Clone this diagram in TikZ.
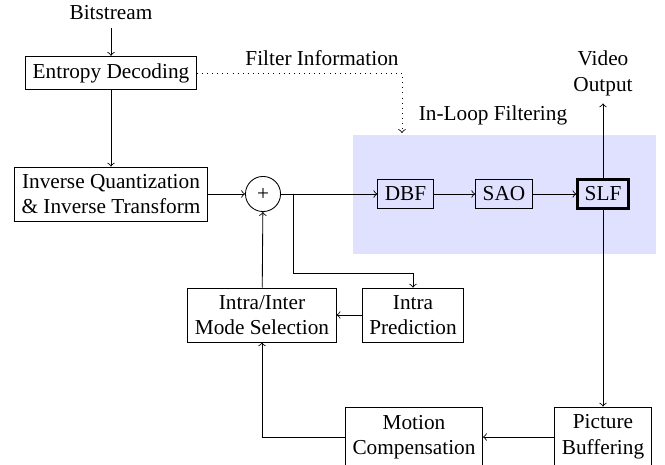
\documentclass[tikz,border=0pt]{standalone}
\usepackage{fontspec}
\setmainfont{Liberation Serif}
\begin{document}
\begin{tikzpicture}[x=0.47pt, y=-0.47pt,
        block/.style={draw, align=center},
        adder/.style={draw, circle, minimum size=16.5pt, inner sep=0pt},
        loopbg/.style={fill=blue!12, minimum width=142.4pt, minimum height=55.9pt}]
    \useasboundingbox (0, 0) rectangle (665, 465);

    \node[loopbg] (loop) at (504.5, 194.5) {};
    \node (looplabel) at (493, 115) {In-Loop Filtering};

    \node (bits) at (111, 13) {Bitstream};
    \node[block] (ent) at (111, 73) {Entropy Decoding};
    \node (filtinfo) at (322, 58) {Filter Information};
    \node[align=center] (video) at (603, 73.5) {Video\\Output};

    \node[block] (invq) at (111, 194) {Inverse Quantization\\\& Inverse Transform};
    \node[adder] (plus) at (263, 194) {+};
    \node[block] (dbf) at (405.5, 194) {DBF};
    \node[block] (sao) at (504, 194) {SAO};
    \node[block, very thick] (slf) at (603, 194) {SLF};

    \node[block] (mode) at (262, 315) {Intra/Inter\\Mode Selection};
    \node[block] (intrap) at (413, 315) {Intra\\Prediction};

    \node[block, minimum height=28.2pt] (mc) at (414, 437) {Motion\\Compensation};
    \node[block, minimum height=28.2pt] (pic) at (603, 437) {Picture\\Buffering};

    \coordinate (filtend) at (402, 133);
    \coordinate (br) at (293, 194);
    \coordinate (bend) at (293, 273);

    \draw [->] (bits) -- (ent);
    \draw [->] (ent) -- (invq);
    \draw [->, dotted] (ent.east) -| (filtend);
    \draw [->] (invq) -- (plus);
    \draw [->] (plus) -- (dbf);
    \draw [->] (dbf) -- (sao);
    \draw [->] (sao) -- (slf);
    \draw [->] (slf) -- (video);
    \draw [->] (slf) -- (pic);
    \draw [->] (br) -- (bend) -| (intrap);
    \draw [->] (intrap) -- (mode);
    \draw [->] (mode) -- (plus);
    \draw [->] (pic) -- (mc);
    \draw [->] (mc.west) -| (mode.south);
\end{tikzpicture}
\end{document}
